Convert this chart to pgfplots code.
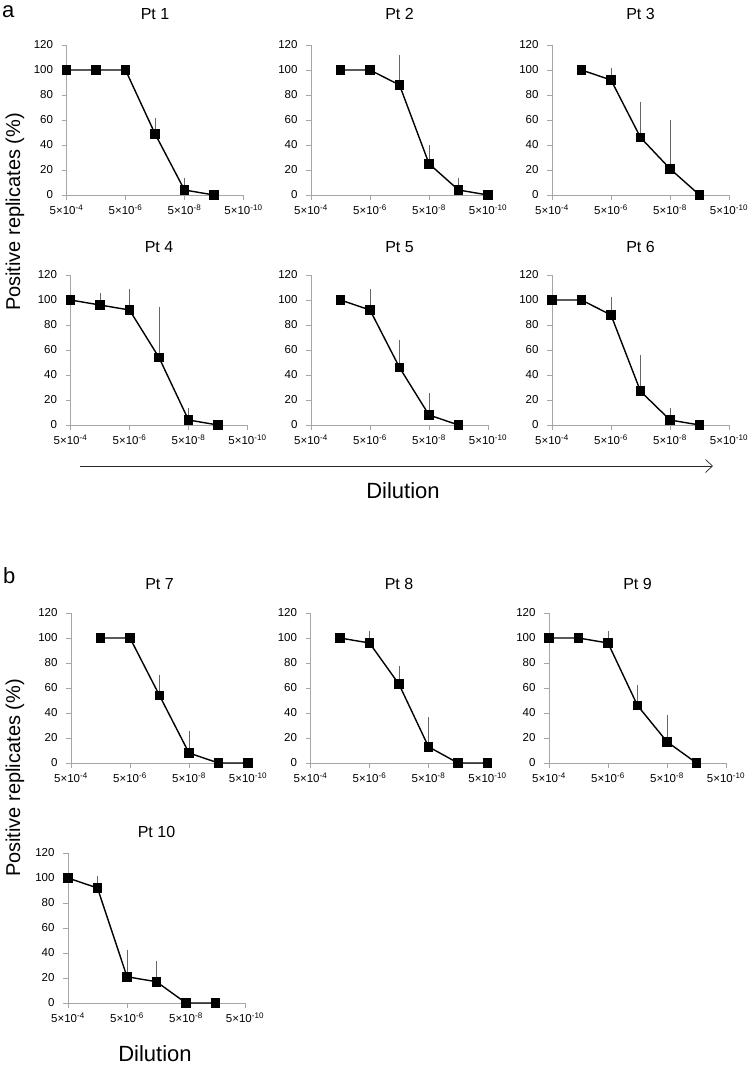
\documentclass[border=0pt]{standalone}
\usepackage{fontspec}
\setmainfont{Liberation Sans}
\usepackage{pgfplots}
\pgfplotsset{compat=1.18}
\usetikzlibrary{arrows.meta}

\pgfplotsset{
  ptstyle/.style={
    scale only axis,
    width=177pt, height=150pt,
    xmin=0, xmax=6, ymin=0, ymax=120,
    xtick={0,2,4,6},
    xticklabels={5×10\textsuperscript{-4}, 5×10\textsuperscript{-6}, 5×10\textsuperscript{-8}, 5×10\textsuperscript{-10}},
    ytick={0,20,...,120},
    axis lines*=left,
    axis line style={draw=gray!70, line width=0.8pt},
    tick style={draw=gray!70, line width=0.8pt},
    major tick length=5pt,
    tick align=outside,
    clip=false,
    /pgf/number format/assume math mode=true,
    ticklabel style={font=\fontsize{11.5}{13}\selectfont},
    xticklabel style={yshift=-1pt},
    yticklabel style={xshift=-5pt},
    title style={font=\fontsize{16}{19}\selectfont, at={(0.5,1)}, anchor=base},
    anchor=south west,
  },
  ptline/.style={black, line width=1.4pt, mark=square*, mark size=4.2pt,
    mark options={solid, fill=black},
    error bars/.cd, y dir=plus, y explicit,
    error bar style={black!60, line width=0.7pt},
    error mark options={black!60, line width=0.7pt, mark size=3.5pt}},
}

\begin{document}
\begin{tikzpicture}
\path[use as bounding box] (0,0) rectangle (754pt,-1066pt);

% ---------- a ----------
\begin{axis}[ptstyle, at={(66.5pt,-195pt)}, title={Pt 1}, title style={yshift=20pt}]
\addplot[ptline] table[x=x, y=y, y error=e, row sep=\\] {
x y e \\ 0 100 0 \\ 1 100 0 \\ 2 100 0 \\ 3 49 10 \\ 4 4 7 \\ 5 0 0 \\
};
\end{axis}

\begin{axis}[ptstyle, at={(311pt,-195pt)}, title={Pt 2}, title style={yshift=20pt}]
\addplot[ptline] table[x=x, y=y, y error=e, row sep=\\] {
x y e \\ 1 100 0 \\ 2 100 0 \\ 3 88 21 \\ 4 25 12 \\ 5 4 7 \\ 6 0 0 \\
};
\end{axis}

\begin{axis}[ptstyle, at={(552pt,-195pt)}, title={Pt 3}, title style={yshift=20pt}]
\addplot[ptline] table[x=x, y=y, y error=e, row sep=\\] {
x y e \\ 1 100 0 \\ 2 92 7 \\ 3 46 26 \\ 4 21 36 \\ 5 0 0 \\
};
\end{axis}

\begin{axis}[ptstyle, at={(70.5pt,-425pt)}, title={Pt 4}, title style={yshift=17pt}]
\addplot[ptline] table[x=x, y=y, y error=e, row sep=\\] {
x y e \\ 0 100 0 \\ 1 96 7 \\ 2 92 14 \\ 3 54 38 \\ 4 4 7 \\ 5 0 0 \\
};
\end{axis}

\begin{axis}[ptstyle, at={(311pt,-425pt)}, title={Pt 5}, title style={yshift=17pt}]
\addplot[ptline] table[x=x, y=y, y error=e, row sep=\\] {
x y e \\ 1 100 0 \\ 2 92 14 \\ 3 46 19 \\ 4 8 15 \\ 5 0 0 \\
};
\end{axis}

\begin{axis}[ptstyle, at={(552pt,-425pt)}, title={Pt 6}, title style={yshift=17pt}]
\addplot[ptline] table[x=x, y=y, y error=e, row sep=\\] {
x y e \\ 0 100 0 \\ 1 100 0 \\ 2 88 12 \\ 3 27 26 \\ 4 4 7 \\ 5 0 0 \\
};
\end{axis}

% ---------- b ----------
\begin{axis}[ptstyle, at={(71pt,-763pt)}, title={Pt 7}, title style={yshift=18pt}]
\addplot[ptline] table[x=x, y=y, y error=e, row sep=\\] {
x y e \\ 1 100 0 \\ 2 100 0 \\ 3 54 14 \\ 4 8 15 \\ 5 0 0 \\ 6 0 0 \\
};
\end{axis}

\begin{axis}[ptstyle, at={(310.5pt,-763pt)}, title={Pt 8}, title style={yshift=18pt}]
\addplot[ptline] table[x=x, y=y, y error=e, row sep=\\] {
x y e \\ 1 100 0 \\ 2 96 7 \\ 3 63 12 \\ 4 13 21 \\ 5 0 0 \\ 6 0 0 \\
};
\end{axis}

\begin{axis}[ptstyle, at={(549pt,-763pt)}, title={Pt 9}, title style={yshift=18pt}]
\addplot[ptline] table[x=x, y=y, y error=e, row sep=\\] {
x y e \\ 0 100 0 \\ 1 100 0 \\ 2 96 7 \\ 3 46 14 \\ 4 17 19 \\ 5 0 0 \\
};
\end{axis}

\begin{axis}[ptstyle, at={(68pt,-1003pt)}, title={Pt 10}, title style={yshift=10pt}]
\addplot[ptline] table[x=x, y=y, y error=e, row sep=\\] {
x y e \\ 0 100 0 \\ 1 92 7 \\ 2 21 19 \\ 3 17 14 \\ 4 0 0 \\ 5 0 0 \\
};
\end{axis}

% ---------- annotations ----------
\node[anchor=base west, font=\fontsize{22}{26}\selectfont, inner sep=0pt] at (2pt,-17pt) {a};
\node[anchor=base west, font=\fontsize{22}{26}\selectfont, inner sep=0pt] at (3pt,-583pt) {b};

\node[rotate=90, font=\fontsize{20}{24}\selectfont, inner sep=0pt] at (15pt,-212pt) {Positive replicates (\%)};
\node[rotate=90, font=\fontsize{20}{24}\selectfont, inner sep=0pt] at (15pt,-778pt) {Positive replicates (\%)};

\draw[-{Straight Barb[length=7pt,width=13pt]}, line width=0.7pt, black!85] (80pt,-466pt) -- (713pt,-466pt);
\node[anchor=base, font=\fontsize{22}{26}\selectfont, inner sep=0pt] at (403pt,-498pt) {Dilution};
\node[anchor=base, font=\fontsize{22}{26}\selectfont, inner sep=0pt] at (155pt,-1061pt) {Dilution};
\end{tikzpicture}
\end{document}
